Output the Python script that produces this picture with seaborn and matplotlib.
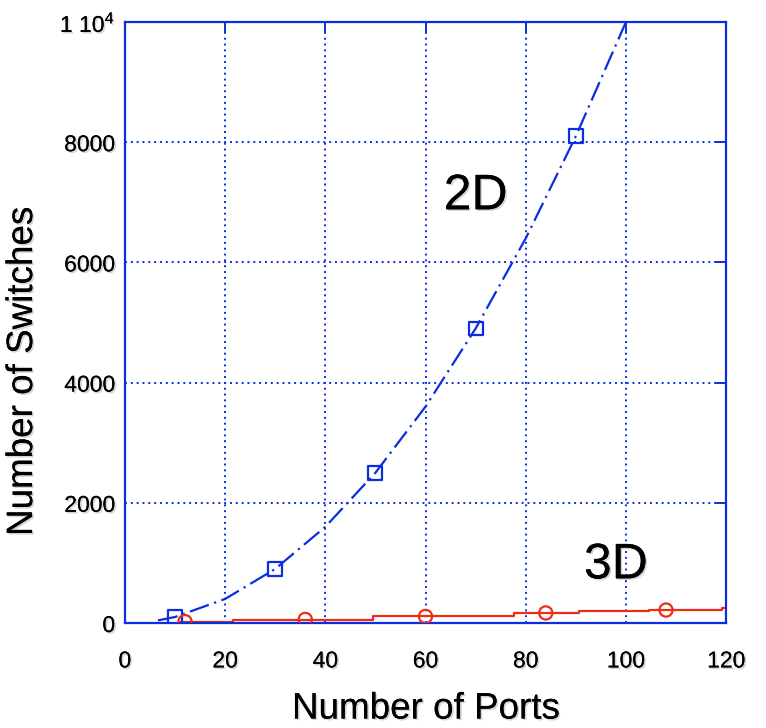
import matplotlib
matplotlib.use("Agg")
import matplotlib.pyplot as plt
import matplotlib.patheffects as pe
import seaborn as sns
import pandas as pd

# 2D network: switch count versus number of ports
ports_2d = [6.6, 10, 20, 30, 40, 50, 60, 70, 80, 90, 100]
switches_2d = [44, 100, 400, 900, 1600, 2500, 3600, 4900, 6400, 8100, 10000]
marker_ports_2d = [10, 30, 50, 70, 90]
marker_switches_2d = [100, 900, 2500, 4900, 8100]

# 3D network: staircase of switch counts
ports_3d = [11, 21.6, 49.6, 77.6, 90.6, 104.6, 119.2, 120]
switches_3d = [18, 58, 118, 165, 196, 213, 251, 251]
marker_ports_3d = [12, 36, 60, 84, 108]
marker_switches_3d = [24, 60, 110, 168, 216]

x_ticks = [0, 20, 40, 60, 80, 100, 120]
y_ticks = [0, 2000, 4000, 6000, 8000, 10000]
y_tick_labels = ["0", "2000", "4000", "6000", "8000", r"1 10$^{4}$"]

BLUE = "#0a2ee0"
RED = "#ec2e14"

sns.set_theme(style="white")
plt.rcParams["font.family"] = ["Liberation Sans", "DejaVu Sans"]
plt.rcParams["mathtext.fontset"] = "custom"
plt.rcParams["mathtext.rm"] = "Liberation Sans"
plt.rcParams["mathtext.it"] = "Liberation Sans"
plt.rcParams["mathtext.bf"] = "Liberation Sans"

shadow = [pe.withSimplePatchShadow(offset=(1.2, -1.2), shadow_rgbFace="#888888", alpha=0.35), pe.Normal()]

fig = plt.figure(figsize=(7.66, 7.28), dpi=100)
ax = fig.add_axes([0.163, 0.1442, 0.785, 0.8256])

df2 = pd.DataFrame({"ports": ports_2d, "switches": switches_2d})
df3 = pd.DataFrame({"ports": ports_3d, "switches": switches_3d})

sns.lineplot(data=df2, x="ports", y="switches", ax=ax, color=BLUE, linewidth=1.6,
             estimator=None, sort=False)
ax.lines[-1].set_dashes((9, 2.5, 1, 2.5))
sns.scatterplot(x=marker_ports_2d, y=marker_switches_2d, ax=ax, marker="s", s=100,
                facecolors="none", edgecolor=BLUE, linewidth=1.6, zorder=4)

sns.lineplot(data=df3, x="ports", y="switches", ax=ax, color=RED, linewidth=1.6,
             estimator=None, sort=False, drawstyle="steps-post")
sns.scatterplot(x=marker_ports_3d, y=marker_switches_3d, ax=ax, marker="o", s=90,
                facecolors="none", edgecolor=RED, linewidth=1.6, zorder=4)

ax.set_xlim(0, 120)
ax.set_ylim(0, 10000)
ax.set_xticks(x_ticks)
ax.set_yticks(y_ticks)
ax.set_xticklabels([str(v) for v in x_ticks])
ax.set_yticklabels(y_tick_labels)

ax.grid(True, color=BLUE, linestyle=(0, (1, 2)), linewidth=1.4)
for sp in ax.spines.values():
    sp.set_visible(True)
    sp.set_color(BLUE)
    sp.set_linewidth(1.6)

ax.tick_params(axis="both", direction="in", length=7, width=1.4, color=BLUE,
               top=True, right=True, labelsize=16.5, labelcolor="black")
ax.tick_params(axis="x", pad=19)
ax.tick_params(axis="y", pad=7)
for lbl in ax.get_xticklabels() + ax.get_yticklabels():
    lbl.set_path_effects(shadow)

ax.set_xlabel("Number of Ports", fontsize=26.5, color="black")
ax.set_ylabel("Number of Switches", fontsize=26.5, color="black")
ax.xaxis.set_label_coords(0.5, -0.114)
ax.yaxis.set_label_coords(-0.141, 0.418)
ax.xaxis.label.set_path_effects(shadow)
ax.yaxis.label.set_path_effects(shadow)

ax.text(70, 7100, "2D", fontsize=36, ha="center", va="center", color="black",
        path_effects=shadow)
ax.text(98, 960, "3D", fontsize=36, ha="center", va="center", color="black",
        path_effects=shadow)

fig.savefig("out.png", dpi=100)
